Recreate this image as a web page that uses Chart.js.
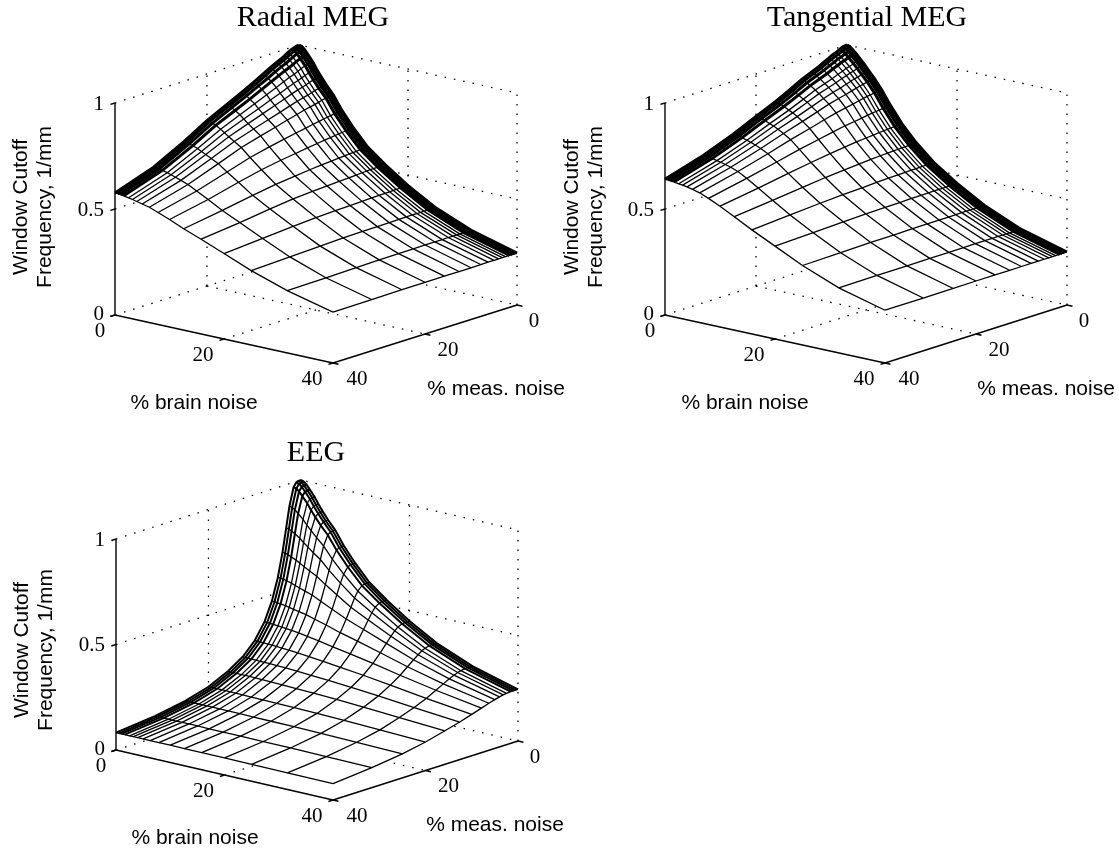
<!DOCTYPE html><html><head><meta charset="utf-8"><style>html,body{margin:0;background:#fff}canvas{position:absolute}</style>
<script src="https://cdn.jsdelivr.net/npm/chart.js@4"></script></head><body>
<canvas id="c0" style="left:0;top:0" width="570" height="425"></canvas>
<canvas id="c1" style="left:555px;top:0" width="564" height="425"></canvas>
<canvas id="c2" style="left:0;top:430px" width="570" height="419"></canvas>
<script>
// % noise levels of the mesh lines (both axes)
const noiseLevels=[0,.5,1,1.6,2.5,3.2,4,5,6.3,7.9,10,12.6,15.8,20,25,31.6,40];
const noiseTicks=[0,20,40];
const zTicks=[0,.5,1];
const zTickLabels=['0','0.5','1'];
const titles=['Radial MEG','Tangential MEG','EEG'];
// Window cutoff: rows = % meas. noise, columns = % brain noise
const zRadial=[
[1,.996,.985,.965,.935,.905,.875,.84,.8,.735,.665,.59,.525,.45,.375,.305,.245],
[.998,.994,.983,.963,.933,.904,.874,.839,.799,.734,.665,.59,.525,.45,.375,.305,.245],
[.995,.991,.98,.961,.931,.902,.872,.838,.798,.734,.664,.589,.525,.45,.375,.305,.245],
[.99,.986,.976,.956,.927,.898,.869,.835,.796,.732,.663,.589,.524,.45,.375,.305,.245],
[.98,.976,.966,.948,.92,.891,.863,.83,.792,.729,.661,.587,.523,.449,.375,.305,.245],
[.97,.966,.957,.939,.912,.885,.857,.825,.787,.726,.659,.586,.523,.449,.374,.305,.245],
[.96,.957,.947,.93,.904,.878,.851,.819,.783,.723,.657,.585,.522,.448,.374,.305,.245],
[.95,.947,.938,.921,.896,.871,.845,.814,.778,.719,.654,.583,.521,.448,.374,.305,.245],
[.935,.932,.923,.908,.884,.86,.835,.806,.772,.714,.651,.581,.519,.447,.374,.304,.245],
[.915,.912,.904,.89,.868,.845,.822,.795,.762,.707,.646,.578,.517,.446,.373,.304,.245],
[.89,.887,.881,.868,.848,.827,.806,.78,.75,.698,.64,.574,.515,.444,.372,.304,.244],
[.86,.858,.852,.84,.823,.804,.785,.762,.734,.687,.631,.569,.511,.442,.371,.303,.244],
[.825,.823,.818,.808,.793,.777,.76,.74,.715,.672,.621,.561,.507,.44,.37,.303,.244],
[.78,.779,.774,.767,.754,.741,.727,.71,.689,.651,.605,.551,.5,.436,.368,.302,.244],
[.715,.714,.711,.705,.697,.687,.677,.664,.647,.617,.58,.533,.487,.429,.364,.3,.243],
[.64,.639,.637,.634,.628,.622,.615,.606,.594,.572,.544,.507,.468,.417,.358,.297,.242],
[.575,.575,.573,.571,.567,.563,.558,.552,.544,.528,.507,.478,.447,.403,.351,.294,.24]];
const zTangential=[
[1,.996,.985,.97,.945,.925,.9,.87,.825,.76,.685,.61,.535,.46,.385,.31,.25],
[.999,.995,.984,.969,.944,.924,.899,.87,.825,.76,.685,.61,.535,.46,.385,.31,.25],
[.997,.993,.982,.967,.943,.923,.898,.868,.824,.759,.685,.61,.535,.46,.385,.31,.25],
[.99,.986,.976,.961,.937,.918,.894,.865,.821,.757,.683,.609,.535,.46,.385,.31,.25],
[.98,.976,.966,.953,.93,.911,.888,.86,.817,.755,.682,.608,.534,.46,.385,.31,.25],
[.975,.971,.962,.948,.926,.908,.885,.857,.815,.753,.681,.608,.534,.459,.385,.31,.25],
[.965,.962,.952,.94,.918,.901,.879,.852,.811,.751,.679,.607,.533,.459,.385,.31,.25],
[.955,.952,.943,.931,.91,.894,.872,.846,.807,.748,.678,.606,.533,.459,.385,.31,.25],
[.94,.937,.929,.918,.898,.883,.863,.838,.8,.743,.675,.604,.532,.459,.384,.31,.25],
[.925,.922,.915,.904,.886,.872,.853,.83,.793,.738,.672,.603,.531,.458,.384,.31,.25],
[.905,.903,.896,.886,.87,.857,.839,.818,.784,.732,.668,.6,.53,.458,.384,.31,.25],
[.875,.873,.867,.859,.845,.834,.818,.799,.769,.721,.661,.596,.528,.456,.384,.309,.25],
[.84,.838,.834,.827,.815,.806,.793,.776,.75,.707,.652,.59,.524,.455,.383,.309,.25],
[.8,.799,.795,.79,.78,.773,.762,.748,.726,.689,.639,.583,.52,.453,.382,.309,.25],
[.75,.749,.746,.743,.736,.73,.722,.711,.694,.664,.622,.571,.514,.45,.381,.308,.249],
[.695,.694,.692,.69,.685,.681,.675,.668,.655,.632,.598,.555,.504,.444,.378,.308,.249],
[.64,.64,.638,.637,.633,.631,.627,.621,.612,.595,.57,.535,.491,.438,.375,.307,.249]];
const zEEG=[
[1,.996,.985,.965,.935,.905,.875,.84,.8,.735,.665,.59,.525,.45,.375,.305,.245],
[.999,.995,.984,.964,.934,.904,.874,.839,.799,.735,.665,.59,.525,.45,.375,.305,.245],
[.996,.992,.981,.961,.932,.902,.872,.838,.798,.733,.664,.589,.524,.45,.375,.305,.245],
[.977,.973,.963,.944,.916,.888,.859,.826,.788,.726,.658,.585,.522,.448,.374,.304,.245],
[.893,.89,.882,.868,.846,.823,.801,.774,.742,.689,.631,.566,.508,.439,.368,.301,.243],
[.795,.793,.787,.777,.761,.745,.728,.707,.683,.641,.593,.538,.487,.426,.361,.297,.241],
[.685,.684,.68,.673,.663,.652,.641,.626,.609,.579,.543,.5,.458,.406,.348,.29,.237],
[.574,.573,.571,.567,.561,.554,.547,.538,.527,.507,.482,.451,.42,.379,.331,.28,.231],
[.47,.47,.468,.466,.463,.459,.455,.45,.443,.431,.416,.395,.374,.344,.307,.265,.223],
[.383,.383,.382,.381,.379,.377,.375,.372,.368,.361,.352,.339,.325,.305,.278,.246,.211],
[.309,.309,.309,.308,.307,.306,.305,.303,.301,.297,.292,.285,.276,.263,.246,.222,.196],
[.25,.25,.25,.249,.249,.248,.248,.247,.246,.244,.241,.237,.232,.224,.213,.197,.178],
[.204,.204,.204,.204,.203,.203,.203,.202,.202,.2,.199,.196,.194,.189,.182,.172,.159],
[.16,.16,.16,.16,.16,.16,.159,.159,.159,.158,.157,.156,.155,.152,.149,.143,.135],
[.128,.128,.128,.128,.128,.128,.128,.128,.127,.127,.127,.126,.125,.124,.122,.119,.114],
[.102,.102,.102,.102,.102,.102,.102,.102,.102,.102,.101,.101,.101,.1,.099,.097,.095],
[.082,.082,.082,.082,.082,.082,.082,.082,.082,.082,.082,.081,.081,.081,.08,.079,.078]];
const panels=[
{id:'c0',title:titles[0],tx:313,ty:18.5,L:[115,315],F:[333,363],R:[517,305],zs:212,Z:zRadial,zl:[[21,207],[45,207]],bl:[194,403],ml:[496,389],w:3},
{id:'c1',title:titles[1],tx:312,ty:18,L:[110,315],F:[330,363],R:[512,305],zs:212,Z:zTangential,zl:[[17,207],[41,207]],bl:[190,403],ml:[491,389],w:3},
{id:'c2',title:titles[2],tx:316,ty:23,L:[116,320],F:[333,370],R:[518,311],zs:211,Z:zEEG,zl:[[22,220],[46,220]],bl:[195,408],ml:[495,395],w:2}];
function proj(P,b,m,z){const k=[P.L[0]+P.R[0]-P.F[0],P.L[1]+P.R[1]-P.F[1]];
 return {x:k[0]+b/40*(P.F[0]-P.L[0])+m/40*(P.L[0]-k[0]),y:k[1]+b/40*(P.F[1]-P.L[1])+m/40*(P.L[1]-k[1])-z*P.zs};}
const ln=(data,o)=>Object.assign({data,borderColor:'#000',borderWidth:1,pointRadius:0,tension:0,fill:false,clip:false},o);
function build(P){const d=[],n=noiseLevels,Z=P.Z,dot={borderDash:[1.5,8],borderWidth:1.3,order:3},pr=(b,m,z)=>proj(P,b,m,z);
 const G=(pts)=>d.push(ln(pts.map(a=>pr(...a)),dot));
 for(const z of zTicks){G([[0,40,z],[0,0,z],[40,0,z]]);}
 G([[0,20,0],[0,20,1]]);G([[20,0,0],[20,0,1]]);G([[40,0,0],[40,0,1]]);
 G([[0,20,0],[40,20,0]]);G([[20,40,0],[20,0,0]]);
 const out=[],last=n.length-1;
 n.forEach((m,i)=>out.push(pr(0,m,Z[i][0])));
 n.forEach((b,j)=>out.push(pr(b,40,Z[last][j])));
 n.slice().reverse().forEach((m,i)=>out.push(pr(40,m,Z[last-i][last])));
 n.slice().reverse().forEach((b,j)=>out.push(pr(b,0,Z[0][last-j])));
 d.push(ln(out,{order:2,borderColor:'rgba(0,0,0,0)',borderWidth:0,backgroundColor:'#fff',fill:'shape'}));
 n.forEach((m,i)=>d.push(ln(n.map((b,j)=>pr(b,m,Z[i][j])),{order:1,borderWidth:m<=1.6?P.w:1.3})));
 n.forEach((b,j)=>d.push(ln(n.map((m,i)=>pr(b,m,Z[i][j])),{order:1,borderWidth:b<=1.6?P.w:1.3})));
 const ax={order:0,borderWidth:1.4};
 d.push(ln([pr(0,40,0),pr(0,40,1)],ax));d.push(ln([pr(0,40,0),pr(40,40,0)],ax));d.push(ln([pr(40,40,0),pr(40,0,0)],ax));
 zTicks.forEach(z=>d.push(ln([pr(0,40,z),pr(0,41,z)],ax)));
 noiseTicks.forEach(v=>{d.push(ln([pr(v,40,0),pr(v,41,0)],ax));d.push(ln([pr(40,v,0),pr(41,v,0)],ax));});
 return d;}
const textPlugin={id:'txt',afterDraw(c){const P=c.config.options.panel,x=c.ctx,sx=c.scales.x,sy=c.scales.y;
 const T=(s,px,py,f,al,rot)=>{x.save();x.translate(sx.getPixelForValue(px),sy.getPixelForValue(py));if(rot)x.rotate(rot);x.font=f;x.textAlign=al||'center';x.textBaseline='middle';x.fillStyle='#000';x.fillText(s,0,0);x.restore();};
 const tf='21px "Liberation Serif"',sf='21px "Liberation Sans"';
 T(P.title,P.tx,P.ty,'30px "Liberation Serif"');
 zTicks.forEach((z,i)=>{const q=proj(P,0,40,z);T(zTickLabels[i],q.x-11,q.y+(z==0?-1:1),tf,'right');});
 noiseTicks.forEach(v=>{let q=proj(P,v,40,0);T(String(v),q.x-(v?21:15),q.y+16.5,tf);q=proj(P,40,v,0);T(String(v),q.x+(v==0?17:v==20?23:24),q.y+16,tf);});
 T('% brain noise',P.bl[0],P.bl[1],sf);T('% meas. noise',P.ml[0],P.ml[1],sf);
 T('Window Cutoff',P.zl[0][0],P.zl[0][1],sf,'center',-Math.PI/2);T('Frequency, 1/mm',P.zl[1][0],P.zl[1][1],sf,'center',-Math.PI/2);
}};
panels.forEach(P=>{const cv=document.getElementById(P.id);new Chart(cv,{type:'line',data:{datasets:build(P)},plugins:[textPlugin],options:{panel:P,responsive:false,animation:false,layout:{padding:0},
 plugins:{legend:{display:false},tooltip:{enabled:false}},scales:{x:{type:'linear',display:false,min:0,max:cv.width},y:{type:'linear',display:false,min:0,max:cv.height,reverse:true}}}});});
</script></body></html>
